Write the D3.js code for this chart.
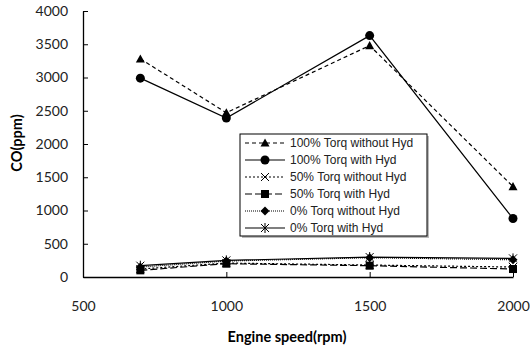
<!DOCTYPE html>
<html>
<head>
<meta charset="utf-8">
<script src="https://cdn.jsdelivr.net/npm/d3@7"></script>
<style>
  body { margin: 0; background: #fff; }
  svg { display: block; }
</style>
</head>
<body>
<svg id="chart" width="530" height="353"></svg>
<script>
// engine speed (rpm)
const speeds = [700, 1000, 1500, 2000];

const seriesNames = [
  "100% Torq without Hyd",
  "100% Torq with Hyd",
  "50% Torq without Hyd",
  "50% Torq with Hyd",
  "0% Torq without Hyd",
  "0% Torq with Hyd",
];

// CO (ppm)
const full_noHyd = [3280, 2470, 3480, 1360];
const full_hyd = [2990, 2390, 3630, 880];
const half_noHyd = [120, 210, 180, 150];
const half_hyd = [100, 200, 170, 120];
const zero_noHyd = [150, 240, 290, 260];
const zero_hyd = [170, 250, 300, 280];

const xTicks = [500, 1000, 1500, 2000];
const yTicks = [0, 500, 1000, 1500, 2000, 2500, 3000, 3500, 4000];

const styles = [
  { dash: "4,3", marker: "triangle", width: 1.2 },
  { dash: null, marker: "circle", width: 1.2 },
  { dash: "2,2", marker: "cross", width: 1.2 },
  { dash: "7,3", marker: "square", width: 1.2 },
  { dash: "1,1", marker: "diamond", width: 1.2 },
  { dash: null, marker: "asterisk", width: 1.2 },
];

const series = [full_noHyd, full_hyd, half_noHyd, half_hyd, zero_noHyd, zero_hyd]
  .map((vals, i) => ({ name: seriesNames[i], style: styles[i], values: vals.map((v, j) => ({ x: speeds[j], y: v })) }));

const margin = { left: 83, top: 11, right: 17, bottom: 76 };
const svg = d3.select("#chart");
const W = 530, H = 353;

const x = d3.scaleLinear().domain([500, 2000]).range([margin.left, W - margin.right]);
const y = d3.scaleLinear().domain([0, 4000]).range([H - margin.bottom, margin.top]);

const font = "Lato, 'Open Sans', sans-serif";

// axes
const xAxis = svg.append("g")
  .attr("transform", `translate(0,${y(0)})`)
  .call(d3.axisBottom(x).tickValues(xTicks).tickFormat(d3.format("d"))
    .tickSizeInner(-5).tickSizeOuter(0).tickPadding(24));
const yAxis = svg.append("g")
  .attr("transform", `translate(${x(500)},0)`)
  .call(d3.axisLeft(y).tickValues(yTicks).tickFormat(d3.format("d"))
    .tickSizeInner(-5).tickSizeOuter(0).tickPadding(15));

[xAxis, yAxis].forEach(a => {
  a.select(".domain").attr("stroke", "#000").attr("stroke-width", 1.3);
  a.selectAll(".tick line").attr("stroke", "#000").attr("stroke-width", 1);
  a.selectAll(".tick text").attr("font-family", font).attr("font-size", 14).attr("fill", "#222");
});
xAxis.selectAll(".tick").filter(d => d === 500).select("line").remove();

svg.append("text")
  .attr("x", 287).attr("y", 342)
  .attr("text-anchor", "middle")
  .attr("font-family", font).attr("font-size", 14.5).attr("font-weight", "bold")
  .text("Engine speed(rpm)");

svg.append("text")
  .attr("transform", "translate(22,143) rotate(-90)")
  .attr("text-anchor", "middle")
  .attr("font-family", font).attr("font-size", 14.5).attr("font-weight", "bold")
  .text("CO(ppm)");

// markers
function drawMarker(g, type, cx, cy) {
  const s = 4.5;
  if (type === "triangle") {
    g.append("path").attr("d", `M${cx},${cy - s}L${cx + s},${cy + s * 0.8}L${cx - s},${cy + s * 0.8}Z`).attr("fill", "#000");
  } else if (type === "circle") {
    g.append("circle").attr("cx", cx).attr("cy", cy).attr("r", 4.5).attr("fill", "#000");
  } else if (type === "square") {
    g.append("rect").attr("x", cx - 4).attr("y", cy - 4).attr("width", 8).attr("height", 8).attr("fill", "#000");
  } else if (type === "diamond") {
    g.append("path").attr("d", `M${cx},${cy - s}L${cx + s},${cy}L${cx},${cy + s}L${cx - s},${cy}Z`).attr("fill", "#000");
  } else if (type === "cross") {
    g.append("path").attr("d", `M${cx - 4},${cy - 4}L${cx + 4},${cy + 4}M${cx - 4},${cy + 4}L${cx + 4},${cy - 4}`)
      .attr("stroke", "#000").attr("stroke-width", 1);
  } else if (type === "asterisk") {
    g.append("path").attr("d", `M${cx - 4},${cy - 4}L${cx + 4},${cy + 4}M${cx - 4},${cy + 4}L${cx + 4},${cy - 4}M${cx},${cy - 5}L${cx},${cy + 5}`)
      .attr("stroke", "#000").attr("stroke-width", 1);
  }
}

const line = d3.line().x(d => x(d.x)).y(d => y(d.y));

const plot = svg.append("g");
// draw low series first, big ones on top
series.slice().reverse().forEach(s => {
  const g = plot.append("g");
  g.append("path")
    .attr("d", line(s.values))
    .attr("fill", "none")
    .attr("stroke", "#000")
    .attr("stroke-width", s.style.width)
    .attr("stroke-dasharray", s.style.dash);
  s.values.forEach(d => drawMarker(g, s.style.marker, x(d.x), y(d.y)));
});

// legend
const legend = svg.append("g").attr("transform", "translate(240,134)");
legend.append("rect")
  .attr("x", 2).attr("y", 2).attr("width", 187).attr("height", 102)
  .attr("fill", "#bbb");
legend.append("rect")
  .attr("width", 187).attr("height", 102)
  .attr("fill", "#fff").attr("stroke", "#000").attr("stroke-width", 1);

series.forEach((s, i) => {
  const ly = 9 + i * 17;
  const g = legend.append("g");
  g.append("line")
    .attr("x1", 5).attr("x2", 45).attr("y1", ly).attr("y2", ly)
    .attr("stroke", "#000").attr("stroke-width", s.style.width)
    .attr("stroke-dasharray", s.style.dash);
  drawMarker(g, s.style.marker, 25, ly);
  g.append("text")
    .attr("x", 50).attr("y", ly).attr("dy", "0.35em")
    .attr("font-family", "'Liberation Sans', Arial, sans-serif")
    .attr("font-size", 12).attr("fill", "#222")
    .text(s.name);
});
</script>
</body>
</html>
